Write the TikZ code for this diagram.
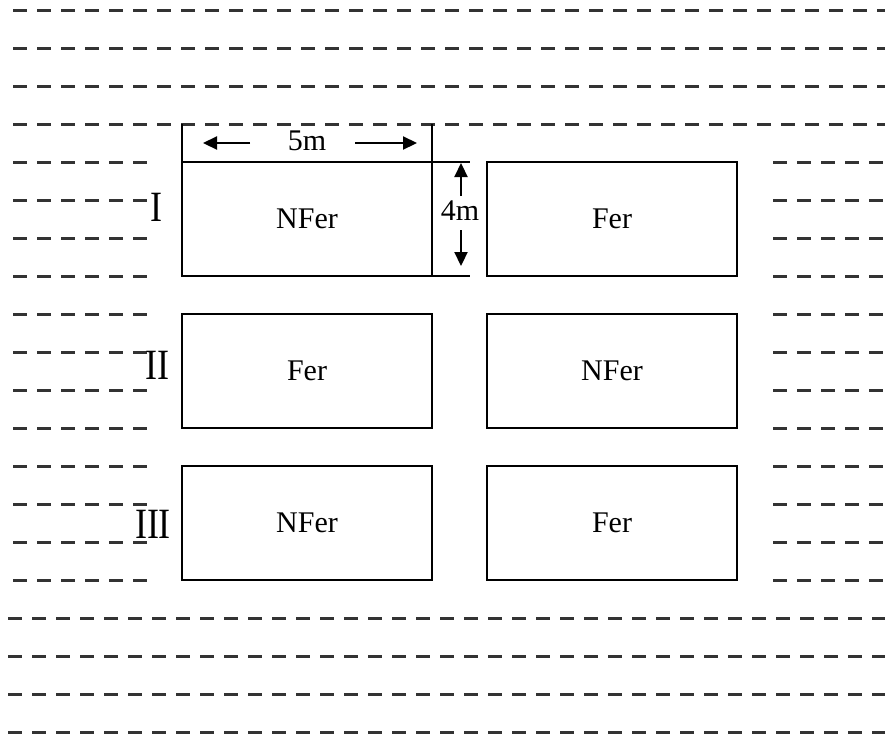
\documentclass[tikz,border=0pt]{standalone}
\usepackage{fontspec}
\setmainfont{Liberation Serif}
\usetikzlibrary{arrows.meta}
\tikzset{
  soil/.style={draw=black!80, line width=3pt, dash pattern=on 14pt off 10pt},
  plot/.style={draw=black, line width=2.2pt, minimum width=250pt, minimum height=114pt, inner sep=0pt, outer sep=0pt, font=\fontsize{30}{34}\selectfont},
  dimline/.style={draw=black, line width=2.2pt},
  dimarrow/.style={draw=black, line width=2.2pt, -{Triangle[length=14pt,width=13pt]}},
  rowlabel/.style={inner sep=0pt, font=\fontsize{36}{40}\selectfont},
  dimlabel/.style={inner sep=1pt, font=\fontsize{30}{34}\selectfont}
}
\begin{document}
\begin{tikzpicture}[x=1pt,y=-1pt]
\useasboundingbox (0,0) rectangle (885,734);
% full width soil lines
\foreach \yy in {10,48,86,124} \draw[soil] (13,\yy) -- (885,\yy);
\foreach \yy in {618,656,694,732} \draw[soil] (8,\yy) -- (885,\yy);
% short side lines
\foreach \yy in {162,200,238,276,314,352,390,428,466,504,542,580} {
  \draw[soil] (13,\yy) -- (148,\yy);
  \draw[soil] (773,\yy) -- (885,\yy);
}
% plots
\node[plot] (a1) at (307,219) {NFer};
\node[plot] (b1) at (612,219) {Fer};
\node[plot] (a2) at (307,371) {Fer};
\node[plot] (b2) at (612,371) {NFer};
\node[plot] (a3) at (307,523) {NFer};
\node[plot] (b3) at (612,523) {Fer};
% row labels
\node[rowlabel] (r1) at (156,207) {\scalebox{1}[1.2]{I}};
\node[rowlabel] (r2) at (157,365) {\scalebox{1}[1.2]{II}};
\node[rowlabel] (r3) at (153,524) {\scalebox{1}[1.2]{III}};
% dimension: width
\coordinate (wl) at (182,124);
\coordinate (wr) at (432,124);
\draw[dimline] (a1.north west) -- (wl);
\draw[dimline] (a1.south east) -- (wr);
\node[dimlabel] (w) at (307,141) {5m};
\coordinate (wlh) at (203,143);
\coordinate (wrh) at (417,143);
\draw[dimarrow] (250,143) -- (wlh);
\draw[dimarrow] (355,143) -- (wrh);
% dimension: height
\coordinate (ht) at (470,162);
\coordinate (hb) at (470,276);
\draw[dimline] (a1.north east) -- (ht);
\draw[dimline] (a1.south east) -- (hb);
\node[dimlabel] (h) at (460,211) {4m};
\coordinate (hu) at (461,163);
\coordinate (hd) at (461,266);
\draw[dimarrow] (461,196) -- (hu);
\draw[dimarrow] (461,230) -- (hd);
\end{tikzpicture}
\end{document}
